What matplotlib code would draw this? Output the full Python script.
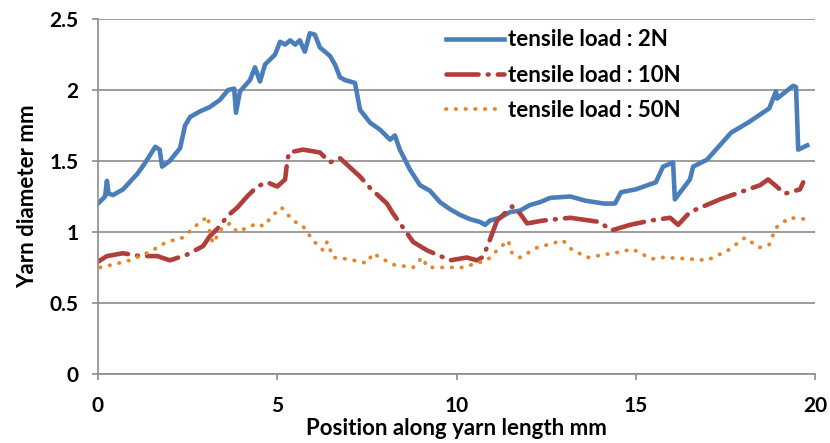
import matplotlib.pyplot as plt

plt.rcParams['font.family'] = ['Lato', 'DejaVu Sans']
plt.rcParams['font.weight'] = 'bold'

# tensile load 2N
x_2n = [0, 0.2, 0.25, 0.3, 0.42, 0.7, 1.1, 1.3, 1.45, 1.6, 1.72, 1.79, 2.0, 2.29, 2.43,
        2.57, 2.85, 3.12, 3.4, 3.63, 3.8, 3.85, 3.96, 4.24, 4.38, 4.52, 4.66, 4.94, 5.08,
        5.22, 5.36, 5.5, 5.63, 5.77, 5.91, 6.05, 6.19, 6.47, 6.61, 6.75, 6.89, 7.17, 7.31,
        7.59, 7.87, 8.15, 8.28, 8.42, 8.7, 8.98, 9.26, 9.54, 9.82, 10.1, 10.38, 10.66,
        10.8, 10.93, 11.21, 11.49, 11.77, 12.05, 12.33, 12.61, 13.17, 13.6, 14.11, 14.42,
        14.59, 15.0, 15.56, 15.76, 16.04, 16.09, 16.51, 16.6, 16.99, 17.66, 18.13, 18.72,
        18.91, 18.94, 19.39, 19.47, 19.53, 19.78]
y_2n = [1.2, 1.25, 1.36, 1.27, 1.26, 1.3, 1.41, 1.48, 1.54, 1.6, 1.58, 1.46, 1.5, 1.59, 1.75,
        1.81, 1.85, 1.88, 1.93, 2.0, 2.01, 1.84, 1.99, 2.07, 2.16, 2.06, 2.18, 2.25, 2.34,
        2.32, 2.35, 2.32, 2.35, 2.27, 2.4, 2.39, 2.3, 2.24, 2.18, 2.09, 2.07, 2.05, 1.86,
        1.77, 1.72, 1.65, 1.68, 1.58, 1.44, 1.33, 1.29, 1.21, 1.16, 1.12, 1.09, 1.07,
        1.05, 1.08, 1.1, 1.14, 1.15, 1.19, 1.21, 1.24, 1.25, 1.22, 1.2, 1.2,
        1.28, 1.3, 1.35, 1.46, 1.49, 1.23, 1.37, 1.46, 1.51, 1.7, 1.77, 1.87,
        1.99, 1.94, 2.03, 2.02, 1.58, 1.61]

# tensile load 10N
x_10n = [0, 0.25, 0.7, 1.17, 1.65, 2.01, 2.48, 2.93, 3.12, 3.4, 3.6, 3.88, 4.16, 4.44, 4.72,
         5.0, 5.22, 5.28, 5.33, 5.72, 6.19, 6.47, 6.75, 7.31, 7.59, 8.06, 8.23, 8.51, 8.79,
         9.18, 9.46, 9.82, 10.29, 10.57, 10.71, 10.85, 11.13, 11.55, 11.77, 11.97, 12.41,
         13.17, 14.0, 14.31, 14.84, 15.4, 15.96, 16.18, 16.51, 17.35, 17.91, 18.47, 18.69,
         18.88, 19.16, 19.58, 19.67]
y_10n = [0.79, 0.83, 0.85, 0.83, 0.83, 0.8, 0.84, 0.9, 0.97, 1.04, 1.11, 1.17, 1.25, 1.32, 1.35,
         1.32, 1.37, 1.5, 1.56, 1.58, 1.56, 1.49, 1.52, 1.39, 1.31, 1.2, 1.13, 1.03, 0.93,
         0.87, 0.84, 0.8, 0.82, 0.8, 0.82, 0.89, 1.08, 1.18, 1.13, 1.06, 1.08,
         1.1, 1.07, 1.01, 1.05, 1.08, 1.1, 1.05, 1.14, 1.23, 1.28, 1.33, 1.37,
         1.33, 1.27, 1.3, 1.35]

# tensile load 50N
x_50n = [0.06, 0.42, 0.89, 1.45, 1.92, 2.37, 2.76, 3.07, 3.12, 3.21, 3.46, 3.68, 3.88, 4.16,
         4.44, 4.61, 4.86, 5.08, 5.13, 5.44, 5.72, 6.0, 6.28, 6.39, 6.56, 6.95, 7.5, 7.67,
         7.87, 8.23, 8.79, 9.04, 9.2, 9.74, 10.18, 10.57, 10.85, 11.13, 11.44, 11.55, 11.77,
         12.25, 12.97, 13.2, 13.64, 14.59, 14.9, 15.45, 15.76, 16.51, 16.99, 17.57, 18.05,
         18.44, 18.72, 18.91, 19.28, 19.78]
y_50n = [0.75, 0.77, 0.8, 0.86, 0.93, 0.96, 1.05, 1.11, 0.99, 0.92, 1.03, 1.06, 1.0, 1.03,
         1.06, 1.04, 1.11, 1.17, 1.17, 1.08, 1.04, 0.94, 0.87, 0.93, 0.82, 0.81, 0.78, 0.85,
         0.82, 0.77, 0.75, 0.82, 0.75, 0.75, 0.75, 0.78, 0.8, 0.87, 0.94, 0.85, 0.82,
         0.89, 0.94, 0.88, 0.82, 0.86, 0.88, 0.81, 0.82, 0.81, 0.8, 0.87, 0.96,
         0.89, 0.91, 1.03, 1.1, 1.09]

fig = plt.figure(figsize=(8.3, 4.43), dpi=100)
ax = fig.add_axes([0.118, 0.156, 0.864, 0.801])

ax.plot(x_2n, y_2n, color='#4A7EBB', linewidth=3.3, label='tensile load : 2N')
ax.plot(x_10n, y_10n, color='#B03E3B', linewidth=3.3, dashes=(7, 2, 0.2, 2),
        dash_capstyle='round', label='tensile load : 10N')
ax.plot(x_50n, y_50n, color='#E7852F', linewidth=2.8, dashes=(0.1, 2.4),
        dash_capstyle='round', label='tensile load : 50N')

ax.set_xlim(0, 20)
ax.set_ylim(0, 2.5)
ax.set_xticks([0, 5, 10, 15, 20])
ax.set_yticks([0, 0.5, 1, 1.5, 2, 2.5])
ax.set_yticklabels(['0', '0.5', '1', '1.5', '2', '2.5'])
ax.yaxis.grid(True, color='#8C8C8C', linewidth=1.2)
ax.set_axisbelow(True)
for s in ['top', 'right']:
    ax.spines[s].set_visible(False)
for s in ['left', 'bottom']:
    ax.spines[s].set_color('#8C8C8C')
    ax.spines[s].set_linewidth(1.2)
ax.tick_params(colors='#8C8C8C', labelcolor='black', labelsize=15, length=4, width=1.2)
ax.tick_params(axis='x', pad=12)
ax.tick_params(axis='y', pad=10)
for lab in ax.get_xticklabels() + ax.get_yticklabels():
    lab.set_fontweight('bold')

ax.set_xlabel('Position along yarn length mm', fontsize=16, fontweight='bold', labelpad=1)
ax.set_ylabel('Yarn diameter mm', fontsize=16, fontweight='bold', labelpad=8)

ax.legend(loc='upper left', bbox_to_anchor=(0.464, 1.015), frameon=False,
          prop={'size': 16, 'weight': 'bold'}, handlelength=2.6, labelspacing=0.65,
          handletextpad=0.2, borderaxespad=0.3)

fig.savefig('out.png', dpi=100)
